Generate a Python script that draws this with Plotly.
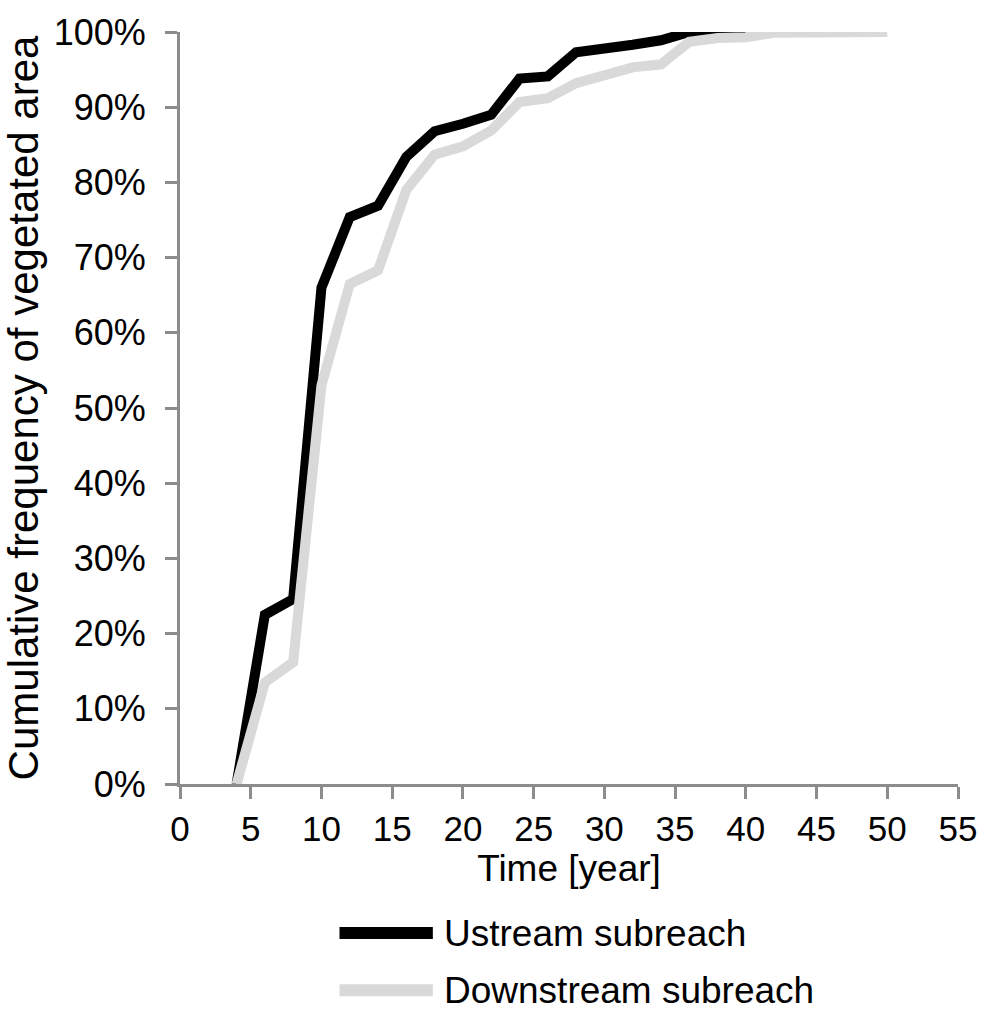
import plotly.graph_objects as go

# ---- data ----
years_up = [4, 6, 8, 10, 12, 14, 16, 18, 20, 22, 24, 26, 28, 30, 32, 34, 36, 38, 40]
freq_up = [0, 22.5, 24.6, 66.0, 75.4, 76.9, 83.4, 86.8, 87.8, 89.0, 93.8, 94.1, 97.3, 97.7, 98.3, 98.9, 100, 100, 100]

years_dn = [4, 6, 8, 10, 12, 14, 16, 18, 20, 22, 24, 26, 28, 30, 32, 34, 36, 38, 40, 42, 44, 46, 48, 50]
freq_dn = [0, 13.5, 16.2, 53.0, 66.5, 68.3, 79.0, 83.7, 84.8, 86.9, 90.7, 91.2, 93.2, 94.1, 95.3, 95.7, 98.7, 99.2, 99.3, 99.9, 100, 100, 100, 100]

series_names = ["Ustream subreach", "Downstream subreach"]
series_colors = ["#000000", "#d9d9d9"]

x_ticks = list(range(0, 56, 5))
y_ticks = list(range(0, 101, 10))
y_ticklabels = [f"{v}%" for v in y_ticks]

FONT = "Liberation Sans, Arial, sans-serif"

fig = go.Figure()
fig.add_trace(go.Scatter(x=years_up, y=freq_up, mode="lines",
                         name=series_names[0],
                         line=dict(color=series_colors[0], width=10, shape="linear"),
                         showlegend=False))
fig.add_trace(go.Scatter(x=years_dn, y=freq_dn, mode="lines",
                         name=series_names[1],
                         line=dict(color=series_colors[1], width=10, shape="linear"),
                         showlegend=False))

# custom legend (long line samples like the reference)
# plot area: top y=22, bottom y=784 (px); legend rows at y=935 and y=993
PLOT_TOP, PLOT_BOT = 22, 784
def py_to_paper(py):
    return (PLOT_BOT - py) / (PLOT_BOT - PLOT_TOP)

legend_rows = [py_to_paper(935), py_to_paper(993)]
for name, col, yy in zip(series_names, series_colors, legend_rows):
    fig.add_shape(type="line", xref="paper", yref="paper",
                  x0=0.205, x1=0.325, y0=yy, y1=yy,
                  line=dict(color=col, width=12))
    fig.add_annotation(xref="paper", yref="paper", x=0.337, y=yy,
                       text=name, showarrow=False, xanchor="left", yanchor="middle",
                       font=dict(family=FONT, size=37, color="#000"))

axis_col = "#8c8c8c"
fig.update_layout(
    width=989, height=1015,
    margin=dict(l=180, r=21, t=PLOT_TOP, b=1015 - PLOT_BOT),
    paper_bgcolor="white", plot_bgcolor="white",
    font=dict(family=FONT, size=34, color="#000"),
    xaxis=dict(range=[0, 55], tickvals=x_ticks, showgrid=False, zeroline=False,
               showline=True, linecolor=axis_col, linewidth=3,
               ticks="outside", ticklen=12, tickwidth=3, tickcolor=axis_col,
               tickfont=dict(family=FONT, size=35, color="#000"),
               title=dict(text="Time [year]", font=dict(family=FONT, size=37, color="#000"), standoff=4)),
    yaxis=dict(range=[0, 100], tickvals=y_ticks, ticktext=y_ticklabels, showgrid=False, zeroline=False,
               showline=True, linecolor=axis_col, linewidth=3,
               ticks="outside", ticklen=12, tickwidth=3, tickcolor=axis_col,
               ticklabelstandoff=12,
               tickfont=dict(family=FONT, size=36, color="#000"),
               title=dict(text="Cumulative frequency of vegetated area",
                          font=dict(family=FONT, size=42, color="#000"), standoff=3)),
)

fig.write_html("out.html")
